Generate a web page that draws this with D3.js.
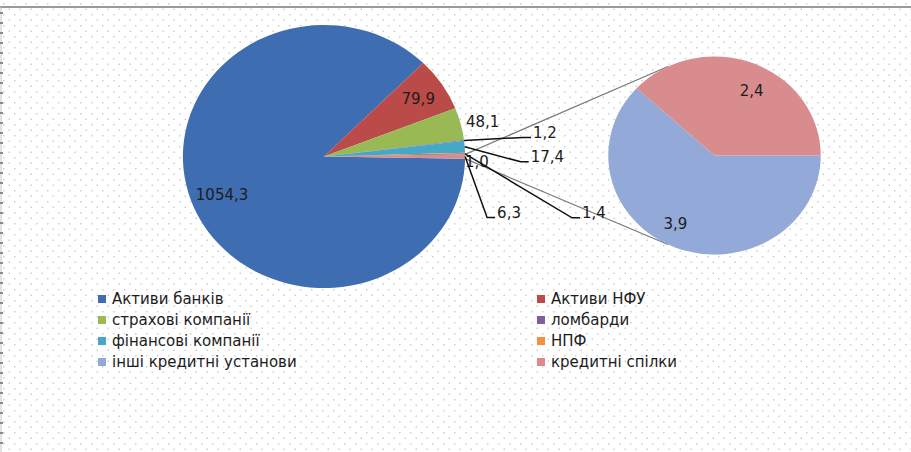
<!DOCTYPE html>
<html>
<head>
<meta charset="utf-8">
<script src="https://cdn.jsdelivr.net/npm/d3@7"></script>
<style>
  body { margin: 0; background: #fff; }
  #chart { width: 911px; height: 452px; }
  text { font-family: "DejaVu Sans", sans-serif; fill: #1c1c1c; }
</style>
</head>
<body>
<div id="chart"></div>
<script>
// main pie: banks, NFU, insurance, pawnshops, finance cos, NPF, unnamed 1.4, "other" (= 3.9 + 2.4)
const mainNames = ["Активи банків", "Активи НФУ", "страхові компанії", "ломбарди", "фінансові компанії", "НПФ", "", "інші"];
const mainValues = [1054.3, 79.9, 48.1, 1.2, 17.4, 1.0, 1.4, 6.3];
const mainLabels = ["1054,3", "79,9", "48,1", "1,2", "17,4", "1,0", "1,4", "6,3"];

// secondary pie (split of the "other" slice)
const subNames = ["інші кредитні установи", "кредитні спілки"];
const subValues = [3.9, 2.4];
const subLabels = ["3,9", "2,4"];

// legend, row-major over two columns
const legendNames = ["Активи банків", "Активи НФУ", "страхові компанії", "ломбарди",
  "фінансові компанії", "НПФ", "інші кредитні установи", "кредитні спілки"];

(function () {
  const colors = {
    "Активи банків": "#3f6db2",
    "Активи НФУ": "#bb4b48",
    "страхові компанії": "#98b954",
    "ломбарди": "#7d5fa0",
    "фінансові компанії": "#46a8c4",
    "НПФ": "#f4913f",
    "": "#2c4d75",
    "інші": "#d98c8d",
    "інші кредитні установи": "#93a9d8",
    "кредитні спілки": "#d98c8d"
  };

  const W = 911, H = 452;
  const svg = d3.select("#chart").append("svg")
    .attr("width", W).attr("height", H);

  // dotted paper background
  const defs = svg.append("defs");
  const pat = defs.append("pattern")
    .attr("id", "dots").attr("patternUnits", "userSpaceOnUse")
    .attr("width", 11).attr("height", 11);
  pat.append("rect").attr("x", 3).attr("y", 3).attr("width", 1.5).attr("height", 1.5).attr("fill", "#cfcfcf");
  pat.append("rect").attr("x", 8.5).attr("y", 8.5).attr("width", 1.5).attr("height", 1.5).attr("fill", "#cfcfcf");
  svg.append("rect").attr("width", W).attr("height", H).attr("fill", "url(#dots)");

  // frame: top rule and ticked left edge
  svg.append("line").attr("x1", 0).attr("x2", W).attr("y1", 7).attr("y2", 7)
    .attr("stroke", "#9a9a9a").attr("stroke-width", 2);
  svg.append("line").attr("x1", 1).attr("x2", 1).attr("y1", 7).attr("y2", H)
    .attr("stroke", "#c4c4c4").attr("stroke-width", 1);
  svg.append("g").selectAll("rect").data(d3.range(12, H, 10)).join("rect")
    .attr("x", 0).attr("y", d => d).attr("width", 3).attr("height", 2).attr("fill", "#8a8a8a");

  const sx = 1.073;               // the picture is slightly wider than tall
  const main = { cx: 324, cy: 156.5, r: 131.5 };
  const sub = { cx: 714.5, cy: 155.5, r: 99 };

  const total = d3.sum(mainValues);
  const otherAngle = 2 * Math.PI * mainValues[mainValues.length - 1] / total;
  const start = Math.PI / 2 + otherAngle / 2;

  const mainArcs = d3.pie().sort(null).startAngle(start).endAngle(start + 2 * Math.PI)(mainValues);
  const subArcs = d3.pie().sort(null).startAngle(Math.PI / 2).endAngle(Math.PI / 2 + 2 * Math.PI)(subValues);

  const pt = (c, a, k) => [c.cx + sx * c.r * k * Math.sin(a), c.cy - c.r * k * Math.cos(a)];

  // connector lines from the "other" slice to the secondary pie
  const o = mainArcs[mainArcs.length - 1];
  const tilt = 26 * Math.PI / 180;
  const conn = [
    [pt(main, o.startAngle, 1), pt(sub, -tilt, 1)],
    [pt(main, o.endAngle, 1), pt(sub, Math.PI + tilt, 1)]
  ];
  svg.append("g").selectAll("line").data(conn).join("line")
    .attr("x1", d => d[0][0]).attr("y1", d => d[0][1])
    .attr("x2", d => d[1][0]).attr("y2", d => d[1][1])
    .attr("stroke", "#7a7a7a").attr("stroke-width", 1.2);

  const arc = r => d3.arc().innerRadius(0).outerRadius(r);

  svg.append("g")
    .attr("transform", `translate(${main.cx},${main.cy}) scale(${sx},1)`)
    .selectAll("path").data(mainArcs).join("path")
    .attr("d", arc(main.r))
    .attr("fill", (d, i) => colors[mainNames[i]]);

  svg.append("g")
    .attr("transform", `translate(${sub.cx},${sub.cy}) scale(${sx},1)`)
    .selectAll("path").data(subArcs).join("path")
    .attr("d", arc(sub.r))
    .attr("fill", (d, i) => colors[subNames[i]]);

  // label placement: k = radial fraction of the anchor, [dx, dy] = text offset, leader flag
  const mainPlace = [
    { k: 0.78, dx: 0, dy: 0, lead: false },
    { k: 0.8, dx: 0, dy: 0, lead: false },
    { k: 1.0, dx: 22, dy: -2, lead: false },
    { k: 1.0, dx: 69, dy: -8, lead: true },
    { k: 1.0, dx: 66, dy: 10, lead: true },
    { k: 1.0, dx: 0, dy: 9, lead: false, start: true },
    { k: 1.0, dx: 117, dy: 59, lead: true },
    { k: 1.0, dx: 32, dy: 56, lead: true }
  ];
  const subPlace = [
    { k: 0.7, dx: -12, dy: 4 },
    { k: 0.7, dx: 10, dy: 0 }
  ];

  const labels = svg.append("g").attr("font-size", "15px");

  mainArcs.forEach((a, i) => {
    const p = mainPlace[i];
    const mid = (a.startAngle + a.endAngle) / 2;
    const [ax, ay] = pt(main, mid, p.k);
    const tx = ax + p.dx, ty = ay + p.dy;
    if (p.lead) {
      labels.append("polyline")
        .attr("points", [[ax, ay], [tx - 10, ty + 5], [tx - 2, ty + 5]].join(" "))
        .attr("fill", "none").attr("stroke", "#111").attr("stroke-width", 1.5);
    }
    labels.append("text")
      .attr("x", tx).attr("y", ty)
      .attr("dy", "0.35em")
      .attr("text-anchor", (p.lead || p.start) ? "start" : "middle")
      .text(mainLabels[i]);
  });

  subArcs.forEach((a, i) => {
    const p = subPlace[i];
    const mid = (a.startAngle + a.endAngle) / 2;
    const [ax, ay] = pt(sub, mid, p.k);
    labels.append("text")
      .attr("x", ax + p.dx).attr("y", ay + p.dy)
      .attr("dy", "0.35em").attr("text-anchor", "middle")
      .text(subLabels[i]);
  });

  // legend
  const col = d3.scaleOrdinal().domain([0, 1]).range([98, 537]);
  const row = d3.scaleLinear().domain([0, 3]).range([299, 362]);
  const leg = svg.append("g").selectAll("g").data(legendNames).join("g")
    .attr("transform", (d, i) => `translate(${col(i % 2)},${row(Math.floor(i / 2))})`);
  leg.append("rect").attr("x", 0).attr("y", -4).attr("width", 8).attr("height", 8)
    .attr("fill", d => colors[d]);
  leg.append("text").attr("x", 14).attr("dy", "0.35em").attr("font-size", "15px")
    .text(d => d);
})();
</script>
</body>
</html>
